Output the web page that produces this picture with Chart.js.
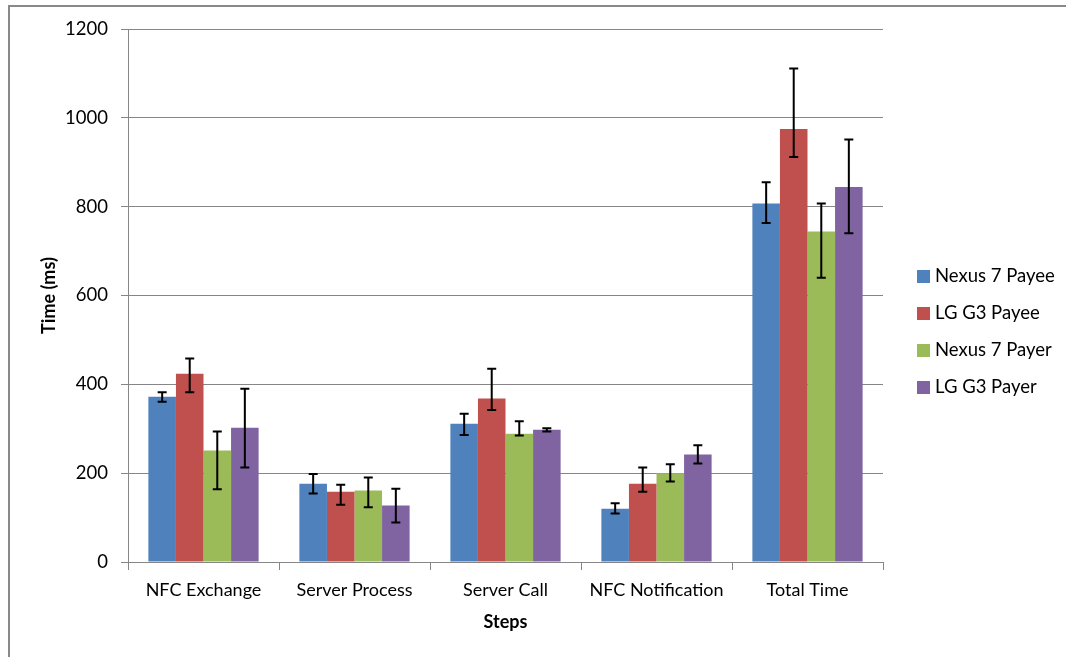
<!DOCTYPE html>
<html>
<head>
<meta charset="utf-8">
<script src="https://cdn.jsdelivr.net/npm/chart.js@4/dist/chart.umd.min.js"></script>
<style>
  body { margin: 0; background: #fff; }
  #wrap { width: 1066px; height: 657px; }
</style>
</head>
<body>
<div id="wrap"><canvas id="stepsChart" width="1066" height="657"></canvas></div>
<script>
const steps = ['NFC Exchange', 'Server Process', 'Server Call', 'NFC Notification', 'Total Time'];
const seriesNames = ['Nexus 7 Payee', 'LG G3 Payee', 'Nexus 7 Payer', 'LG G3 Payer'];
const seriesColors = ['#4F81BD', '#C0504D', '#9BBB59', '#8064A2'];

// mean times (ms)
const nexus7Payee = [372, 176, 311, 120, 807];
const lgG3Payee = [424, 158, 368, 176, 975];
const nexus7Payer = [251, 161, 289, 200, 744];
const lgG3Payer = [302, 127, 298, 242, 844];

// error bar amounts above / below the mean
const nexus7PayeePlus = [10, 22, 23, 12, 48];
const nexus7PayeeMinus = [11, 22, 25, 11, 44];
const lgG3PayeePlus = [34, 16, 67, 37, 136];
const lgG3PayeeMinus = [42, 29, 26, 18, 63];
const nexus7PayerPlus = [43, 29, 28, 20, 63];
const nexus7PayerMinus = [87, 38, 4, 19, 104];
const lgG3PayerPlus = [88, 38, 3, 21, 107];
const lgG3PayerMinus = [89, 38, 4, 20, 104];

const yTicks = [0, 200, 400, 600, 800, 1000, 1200];

const seriesValues = [nexus7Payee, lgG3Payee, nexus7Payer, lgG3Payer];
const errPlus = [nexus7PayeePlus, lgG3PayeePlus, nexus7PayerPlus, lgG3PayerPlus];
const errMinus = [nexus7PayeeMinus, lgG3PayeeMinus, nexus7PayerMinus, lgG3PayerMinus];

const FONT = 'Lato, "Open Sans", sans-serif';
const GRID = '#868686';

const frame = {
    id: 'frame',
    beforeDraw(chart) {
        const ctx = chart.ctx;
        ctx.save();
        ctx.fillStyle = '#fff';
        ctx.fillRect(0, 0, chart.width, chart.height);
        ctx.strokeStyle = '#898989';
        ctx.lineWidth = 2;
        ctx.strokeRect(9, 6, 1200, 800);
        ctx.restore();
    }
};

const errorBars = {
    id: 'errorBars',
    afterDatasetsDraw(chart) {
        const ctx = chart.ctx;
        const y = chart.scales.y;
        ctx.save();
        ctx.strokeStyle = '#000';
        ctx.lineWidth = 2;
        chart.data.datasets.forEach((ds, i) => {
            const meta = chart.getDatasetMeta(i);
            meta.data.forEach((bar, j) => {
                const v = ds.data[j];
                const top = y.getPixelForValue(v + errPlus[i][j]);
                const bot = y.getPixelForValue(v - errMinus[i][j]);
                ctx.beginPath();
                ctx.moveTo(bar.x, top);
                ctx.lineTo(bar.x, bot);
                ctx.moveTo(bar.x - 4.5, top);
                ctx.lineTo(bar.x + 4.5, top);
                ctx.moveTo(bar.x - 4.5, bot);
                ctx.lineTo(bar.x + 4.5, bot);
                ctx.stroke();
            });
        });
        ctx.restore();
    }
};

const sideLegend = {
    id: 'sideLegend',
    afterDraw(chart) {
        const ctx = chart.ctx;
        ctx.save();
        ctx.font = '18.5px ' + FONT;
        ctx.textBaseline = 'middle';
        ctx.textAlign = 'left';
        chart.data.datasets.forEach((ds, i) => {
            const cy = 276.5 + i * 37;
            ctx.fillStyle = ds.backgroundColor;
            ctx.fillRect(917, cy - 6.5, 13, 13);
            ctx.fillStyle = '#000';
            ctx.fillText(ds.label, 935, cy);
        });
        ctx.restore();
    }
};

new Chart(document.getElementById('stepsChart'), {
    type: 'bar',
    data: {
        labels: steps,
        datasets: seriesNames.map((name, i) => ({
            label: name,
            data: seriesValues[i],
            backgroundColor: seriesColors[i],
            borderWidth: 0,
            categoryPercentage: 0.73,
            barPercentage: 1.0
        }))
    },
    options: {
        responsive: false,
        animation: false,
        layout: { padding: { left: 30, top: 29, right: 183, bottom: 20 } },
        plugins: {
            legend: { display: false },
            tooltip: { enabled: false }
        },
        scales: {
            x: {
                grid: { drawOnChartArea: false, drawTicks: true, tickLength: 8, color: GRID },
                border: { color: GRID, width: 1 },
                ticks: { color: '#000', font: { family: FONT, size: 18 }, padding: 9 },
                title: { display: true, text: 'Steps', color: '#000', font: { family: FONT, size: 18, weight: 'bold' }, padding: { top: 0, bottom: 4 } },
                afterFit(scale) { scale.height = 75; }
            },
            y: {
                min: 0,
                max: 1200,
                afterBuildTicks(scale) { scale.ticks = yTicks.map(v => ({ value: v })); },
                grid: { color: GRID, tickLength: 7 },
                border: { color: GRID, width: 1 },
                ticks: { color: '#000', font: { family: FONT, size: 18.5 }, padding: 13, callback: v => String(v) },
                title: { display: true, text: 'Time (ms)', color: '#000', font: { family: FONT, size: 18, weight: 'bold' }, padding: { top: 8, bottom: 0 } },
                afterFit(scale) { scale.width = 98; }
            }
        }
    },
    plugins: [frame, errorBars, sideLegend]
});
</script>
</body>
</html>
